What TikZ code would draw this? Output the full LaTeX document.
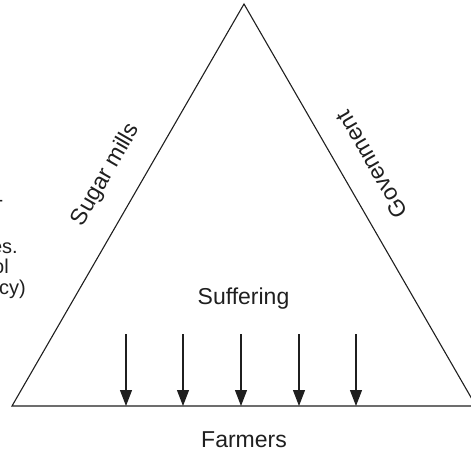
\documentclass[tikz,border=0pt]{standalone}
\usepackage{fontspec}
\setmainfont{Liberation Sans}
\usetikzlibrary{arrows.meta}
\begin{document}
\begin{tikzpicture}[x=1pt,y=-1pt,
  edge/.style={line width=1.1pt, draw=black!88},
  downarrow/.style={line width=1.1pt, draw=black!88, -{Triangle[width=12pt,length=16pt]}},
  lbl/.style={font=\fontsize{23}{27}\selectfont, text=black!88, inner sep=0pt},
  side/.style={font=\fontsize{20}{22}\selectfont, text=black!88, inner sep=0pt, anchor=base east}]
\useasboundingbox (0,0) rectangle (471,456);
\coordinate (L) at (12,406);
\coordinate (T) at (244,4);
\coordinate (R) at (476,406);
\draw[edge, line join=miter] (L) -- (T) -- (R) -- cycle;
\foreach \i/\x in {1/126,2/183,3/241,4/299,5/356}{
  \coordinate (s\i) at (\x,334);
  \coordinate (e\i) at (\x,406);
  \draw[downarrow] (s\i) -- (e\i);
}
\node[lbl] (suffering) at (243.5,299) {Suffering};
\node[lbl] (farmers) at (244,440) {Farmers};
\node[lbl, rotate=60] (mills) at (106,175) {Sugar mills};
\node[lbl, rotate=120] (gov) at (371.5,164.5) {Govenment};
\node[side] (c0) at (3.5,206) {-};
\node[side] (c1) at (18,253) {es.};
\node[side] (c2) at (9,273) {ol};
\node[side] (c3) at (26,294) {cy)};
\end{tikzpicture}
\end{document}
